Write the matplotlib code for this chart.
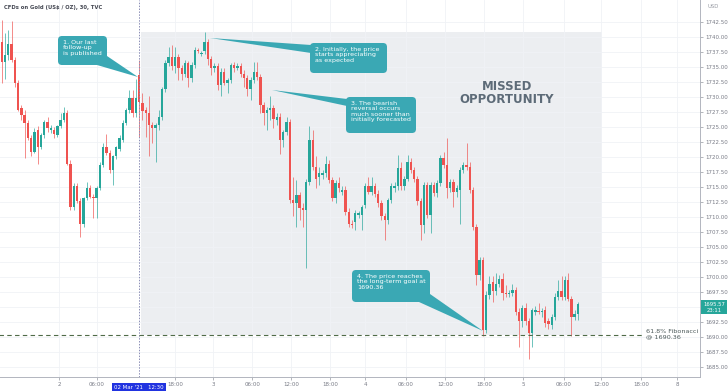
import numpy as np
import matplotlib
matplotlib.use("Agg")
import matplotlib.pyplot as plt
from matplotlib.patches import FancyBboxPatch, Polygon, Rectangle

# 30 minute candles, CFDs on Gold
opens = [
    1739.2, 1735.9, 1737.0, 1738.9, 1736.2, 1732.3, 1728.1, 1727.0, 1725.6, 1723.1,
    1720.9, 1724.5, 1721.7, 1723.7, 1725.9, 1724.5, 1724.5, 1723.7, 1725.1, 1726.2,
    1727.3, 1718.9, 1711.7, 1715.1, 1712.6, 1708.9, 1713.1, 1714.8, 1713.4, 1713.1,
    1714.8, 1718.7, 1721.7, 1720.6, 1717.8, 1720.1, 1721.4, 1722.8, 1725.6, 1727.8,
    1729.8, 1727.3, 1733.7, 1729.0, 1727.8, 1727.3, 1725.3, 1724.9, 1725.3, 1726.7,
    1731.4, 1735.6, 1736.7, 1735.1, 1736.7, 1734.8, 1733.9, 1735.6, 1733.1, 1735.3,
    1737.8, 1737.2, 1737.6, 1739.2, 1736.4, 1734.8, 1735.1, 1732.0, 1734.2, 1732.3,
    1732.8, 1735.3, 1734.8, 1735.1, 1733.9, 1733.1, 1731.4, 1732.8, 1734.2, 1733.4,
    1728.7, 1727.3, 1727.8, 1728.1, 1726.2, 1726.7, 1722.8, 1724.2, 1725.9, 1712.8,
    1712.3, 1713.7, 1711.5, 1711.2, 1715.9, 1722.8, 1718.4, 1716.7, 1717.0, 1717.3,
    1718.9, 1716.2, 1713.1, 1715.6, 1714.2, 1714.5, 1710.9, 1708.9, 1709.2, 1710.4,
    1710.3, 1712.0, 1715.1, 1714.2, 1715.1, 1713.9, 1712.3, 1710.1, 1709.5, 1712.8,
    1714.8, 1715.1, 1718.1, 1715.1, 1716.4, 1719.2, 1717.8, 1716.4, 1712.6, 1708.7,
    1715.3, 1710.3, 1715.3, 1714.0, 1715.6, 1719.8, 1718.7, 1714.8, 1715.9, 1714.2,
    1714.5, 1717.8, 1718.7, 1718.4, 1714.5, 1708.4, 1700.3, 1702.8, 1691.2, 1697.0,
    1699.2, 1697.6, 1698.9, 1699.7, 1697.4, 1697.2, 1697.3, 1697.8, 1694.2, 1692.6,
    1694.8, 1692.6, 1690.6, 1694.2, 1694.4, 1694.2, 1694.5, 1692.6, 1692.0, 1693.4,
    1696.7, 1697.6, 1696.7, 1699.5, 1696.4, 1693.4, 1693.9]
highs = [
    1742.8, 1740.6, 1741.2, 1742.6, 1736.7, 1732.8, 1728.7, 1727.8, 1726.2, 1723.7,
    1724.8, 1725.1, 1724.0, 1726.2, 1726.7, 1725.3, 1725.0, 1725.3, 1727.3, 1728.4,
    1727.8, 1719.5, 1715.6, 1715.6, 1713.1, 1713.4, 1715.9, 1715.3, 1713.9, 1715.1,
    1719.2, 1722.3, 1723.9, 1721.1, 1720.4, 1721.9, 1723.7, 1726.2, 1728.1, 1731.2,
    1731.2, 1733.0, 1736.2, 1730.6, 1728.4, 1730.1, 1725.9, 1725.6, 1727.8, 1731.7,
    1736.2, 1738.4, 1738.7, 1738.4, 1737.2, 1735.3, 1736.2, 1736.0, 1735.9, 1738.4,
    1738.1, 1737.6, 1740.8, 1739.7, 1736.9, 1735.6, 1735.6, 1734.8, 1734.8, 1733.1,
    1735.6, 1735.9, 1735.6, 1735.6, 1734.5, 1733.7, 1733.4, 1735.9, 1735.9, 1733.9,
    1729.2, 1728.4, 1730.1, 1728.7, 1727.3, 1727.3, 1724.5, 1726.7, 1726.4, 1716.7,
    1716.2, 1714.2, 1712.3, 1716.4, 1725.1, 1724.5, 1720.1, 1718.4, 1717.8, 1720.1,
    1719.5, 1716.7, 1716.2, 1716.7, 1715.1, 1715.1, 1711.5, 1709.5, 1711.2, 1711.0,
    1712.0, 1715.6, 1716.7, 1716.7, 1715.6, 1714.5, 1712.8, 1710.6, 1713.1, 1715.6,
    1715.9, 1720.3, 1719.2, 1716.9, 1720.3, 1719.8, 1718.4, 1716.9, 1713.1, 1715.9,
    1715.9, 1715.9, 1715.8, 1716.2, 1720.3, 1720.9, 1723.1, 1716.4, 1716.4, 1715.3,
    1718.4, 1719.2, 1722.3, 1719.2, 1715.0, 1708.9, 1703.4, 1703.4, 1697.6, 1700.1,
    1700.1, 1700.6, 1700.3, 1700.6, 1698.7, 1697.8, 1698.9, 1698.4, 1694.8, 1695.3,
    1695.6, 1693.1, 1694.8, 1695.1, 1695.6, 1694.8, 1695.1, 1693.1, 1693.9, 1697.3,
    1699.5, 1700.1, 1700.1, 1700.6, 1696.9, 1694.5, 1695.9]
lows = [
    1732.3, 1733.0, 1736.2, 1735.9, 1731.7, 1727.6, 1726.2, 1719.8, 1722.8, 1720.1,
    1720.6, 1718.9, 1721.4, 1723.1, 1724.2, 1724.0, 1723.1, 1723.4, 1724.8, 1725.9,
    1718.7, 1711.2, 1711.2, 1712.3, 1706.7, 1708.4, 1712.8, 1713.1, 1709.8, 1709.8,
    1714.5, 1718.4, 1720.3, 1717.3, 1715.3, 1719.6, 1721.0, 1722.5, 1725.3, 1727.3,
    1726.7, 1726.7, 1723.4, 1726.2, 1723.4, 1720.1, 1722.3, 1719.2, 1724.5, 1726.2,
    1730.8, 1735.1, 1734.5, 1734.0, 1732.8, 1732.8, 1733.4, 1731.7, 1732.5, 1734.8,
    1737.4, 1736.9, 1737.2, 1735.3, 1733.7, 1734.2, 1731.2, 1730.1, 1732.0, 1730.6,
    1732.3, 1734.2, 1734.5, 1733.4, 1731.7, 1730.1, 1729.5, 1732.3, 1732.8, 1727.3,
    1725.3, 1724.5, 1726.2, 1724.8, 1725.3, 1720.5, 1721.7, 1723.7, 1712.3, 1710.1,
    1708.4, 1709.5, 1708.4, 1701.5, 1715.3, 1717.8, 1714.8, 1715.3, 1716.4, 1716.7,
    1715.6, 1712.6, 1712.3, 1714.2, 1713.7, 1710.3, 1708.4, 1708.1, 1707.8, 1709.8,
    1707.8, 1711.5, 1713.9, 1713.7, 1713.4, 1711.7, 1709.5, 1706.2, 1708.9, 1712.3,
    1714.2, 1714.5, 1714.5, 1714.5, 1716.0, 1717.3, 1715.9, 1712.0, 1706.2, 1707.3,
    1709.8, 1707.3, 1713.5, 1713.4, 1715.1, 1718.1, 1713.1, 1714.2, 1711.7, 1713.4,
    1708.9, 1717.3, 1717.8, 1714.0, 1707.8, 1698.7, 1699.5, 1690.1, 1690.6, 1696.4,
    1695.9, 1697.0, 1698.4, 1696.2, 1696.7, 1696.7, 1696.9, 1693.7, 1688.4, 1691.7,
    1692.0, 1686.4, 1688.4, 1693.7, 1693.9, 1693.4, 1691.7, 1691.4, 1691.4, 1692.8,
    1696.2, 1696.2, 1696.2, 1696.0, 1690.1, 1692.8, 1692.8]
closes = [
    1735.9, 1737.0, 1738.9, 1736.2, 1732.3, 1727.8, 1727.0, 1725.6, 1723.1, 1720.9,
    1724.2, 1721.7, 1723.7, 1725.9, 1724.8, 1724.8, 1723.9, 1725.1, 1726.2, 1727.3,
    1718.9, 1711.7, 1715.1, 1712.6, 1708.9, 1713.1, 1714.8, 1713.4, 1713.1, 1714.8,
    1718.7, 1721.7, 1720.6, 1717.8, 1720.1, 1721.7, 1723.1, 1725.6, 1727.8, 1729.8,
    1727.3, 1729.8, 1729.2, 1727.6, 1727.3, 1725.3, 1724.9, 1725.3, 1726.7, 1731.4,
    1735.6, 1736.7, 1735.1, 1736.7, 1734.8, 1733.9, 1735.6, 1733.1, 1735.3, 1737.8,
    1737.6, 1737.4, 1739.2, 1736.4, 1734.8, 1735.1, 1732.0, 1734.2, 1732.3, 1732.8,
    1735.3, 1734.8, 1735.1, 1733.9, 1733.1, 1731.4, 1732.8, 1734.2, 1733.4, 1728.7,
    1727.3, 1727.8, 1728.1, 1726.4, 1726.7, 1722.8, 1724.2, 1725.9, 1712.8, 1712.3,
    1713.7, 1711.5, 1711.2, 1715.9, 1722.8, 1718.4, 1716.4, 1717.3, 1717.3, 1718.9,
    1716.2, 1713.1, 1715.6, 1714.8, 1714.5, 1710.9, 1708.9, 1708.7, 1710.6, 1710.7,
    1711.7, 1715.1, 1714.2, 1715.1, 1713.9, 1712.3, 1710.1, 1709.5, 1712.8, 1715.1,
    1715.1, 1718.1, 1715.1, 1716.4, 1719.2, 1717.8, 1716.4, 1712.6, 1708.7, 1715.3,
    1710.3, 1715.3, 1714.0, 1715.6, 1719.8, 1718.7, 1714.8, 1715.9, 1714.2, 1714.8,
    1717.8, 1718.7, 1718.4, 1714.5, 1708.4, 1700.3, 1702.8, 1691.2, 1697.0, 1698.9,
    1697.6, 1698.9, 1699.7, 1697.3, 1697.2, 1697.4, 1697.8, 1694.2, 1692.6, 1694.8,
    1692.6, 1690.6, 1694.5, 1694.5, 1694.2, 1694.4, 1692.3, 1692.2, 1693.4, 1696.7,
    1697.6, 1696.7, 1699.5, 1696.4, 1693.4, 1693.9, 1695.57]

# time axis (candle index positions of the labels)
x_tick_pos = [17.6, 29.0, 52.9, 64.5, 76.5, 88.4, 100.3, 111.0, 123.5, 135.4,
              147.3, 159.2, 171.7, 183.1, 195.3, 206.3]
x_tick_labels = ["2", "06:00", "18:00", "3", "06:00", "12:00", "18:00", "4",
                 "06:00", "12:00", "18:00", "5", "06:00", "12:00", "18:00", "8"]
cursor_idx = 42
cursor_label = "02 Mar '21   12:30"
zone_start, zone_end = 42.5, 183.4
zone_top = 1740.8
fib_level = 1690.36
last_time = "23:11"

UP = "#26a69a"
DOWN = "#ef5350"
TEAL = "#3aa8b4"
GRID = "#f0f2f6"

fig = plt.figure(figsize=(7.28, 3.91), dpi=100)
ax = fig.add_axes([0, 14 / 391, 700 / 728, 377 / 391])

o = np.array(opens)
h = np.array(highs)
l = np.array(lows)
c = np.array(closes)
idx = np.arange(len(o))
cols = np.where(c >= o, UP, DOWN)

# grey "missed opportunity" zone
ax.add_patch(Rectangle((zone_start, fib_level), zone_end - zone_start, zone_top - fib_level,
                       facecolor="#eceef1", edgecolor="none", zorder=0.2))

yt = np.arange(1685, 1743, 2.5)
for v in yt:
    ax.axhline(v, color=GRID, lw=0.6, zorder=0.5)
for v in x_tick_pos:
    ax.axvline(v, color=GRID, lw=0.6, zorder=0.5)

ax.vlines(idx, l, h, colors=cols, lw=0.55, alpha=0.85, zorder=2)
body = np.maximum(np.abs(c - o), 0.15)
ax.bar(idx, body, bottom=np.minimum(o, c), width=0.72, color=cols, lw=0, zorder=3)

ax.axvline(cursor_idx, color="#8a8db5", lw=0.7, ls=(0, (1.5, 1.5)), zorder=4)
ax.plot([-1, 196], [fib_level, fib_level], color="#4f6b48", lw=0.8, ls=(0, (4, 3)), zorder=4)

ax.set_xlim(-0.52, 213.3)
ax.set_ylim(1683.33, 1746.17)
ax.yaxis.tick_right()
ax.set_yticks(yt)
# the 1695.00 label sits under the last-price tag
ax.set_yticklabels(["" if abs(v - 1695) < 0.01 else "%.2f" % v for v in yt])
ax.set_xticks(x_tick_pos)
ax.set_xticklabels(x_tick_labels)
ax.tick_params(axis="both", labelsize=4.0, colors="#9598a1", labelcolor="#787b86",
               length=2, width=0.5, pad=1.5)
for s in ["top", "left"]:
    ax.spines[s].set_visible(False)
for s in ["right", "bottom"]:
    ax.spines[s].set_color("#b2b5be")
    ax.spines[s].set_linewidth(0.7)

ax.text(cursor_idx, -0.022, cursor_label, transform=ax.get_xaxis_transform(),
        ha="center", va="top", fontsize=3.9, color="white",
        bbox=dict(boxstyle="square,pad=0.4", fc="#2133e0", ec="none"))

# overlay in pixel coordinates for the annotations
ov = fig.add_axes([0, 0, 1, 1])
ov.set_xlim(0, 728)
ov.set_ylim(391, 0)
ov.axis("off")
ov.patch.set_alpha(0)


def callout(x0, y0, x1, y1, base, tip, text):
    ov.add_patch(Polygon(base + [tip], closed=True, fc=TEAL, ec="none"))
    ov.add_patch(FancyBboxPatch((x0, y0), x1 - x0, y1 - y0,
                                boxstyle="round,pad=0,rounding_size=4", fc=TEAL, ec="none"))
    ov.text(x0 + 5, y0 + 4, text, ha="left", va="top", color="white",
            fontsize=4.6, linespacing=1.1)


callout(58, 36, 107, 65, [(97, 65), (107, 56)], (138, 77),
        "1. Our last\nfollow-up\nis published")
callout(310, 43, 387, 73, [(311, 45), (311, 53)], (210, 38),
        "2. Initially, the price\nstarts appreciating\nas expected")
callout(346, 97, 416, 133, [(347, 99), (347, 106)], (272, 90),
        "3. The bearish\nreversal occurs\nmuch sooner than\ninitially forecasted")
callout(352, 270, 430, 302, [(419, 302), (430, 294)], (483, 331),
        "4. The price reaches\nthe long-term goal at\n1690.36")

ov.text(507, 93, "MISSED\nOPPORTUNITY", ha="center", va="center", fontsize=8.5,
        fontweight="bold", color="#5d6b78", linespacing=1.0)
ov.text(646, 329, "61.8% Fibonacci\n@ 1690.36", ha="left", va="top", fontsize=4.6,
        color="#4d5a5a", linespacing=1.05)
ov.text(4, 7, "CFDs on Gold (US$ / OZ), 30, TVC", ha="left", va="center",
        fontsize=3.8, fontweight="bold", color="#434651")
ov.text(708, 6, "USD", ha="left", va="center", fontsize=3.8, color="#9598a1")

ov.add_patch(Rectangle((701, 300), 26, 14, fc=UP, ec="none"))
ov.text(714, 304, "%.2f" % closes[-1], ha="center", va="center", fontsize=3.8, color="white")
ov.text(714, 310.5, last_time, ha="center", va="center", fontsize=3.8, color="white")

fig.savefig("out.png", dpi=100)
